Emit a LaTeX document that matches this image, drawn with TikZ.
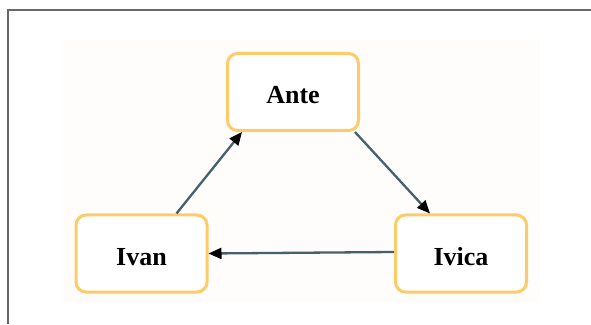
\documentclass[tikz,border=0pt]{standalone}
\usepackage{fontspec}
\setmainfont{Liberation Serif}
\usetikzlibrary{arrows.meta}

\definecolor{boxorange}{HTML}{FDCB6A}
\definecolor{linkgray}{HTML}{46606C}
\definecolor{framegray}{HTML}{686868}
\definecolor{paper}{HTML}{FEFDFB}

\begin{document}
\begin{tikzpicture}[x=1pt,y=1pt,
    person/.style={draw=boxorange, line width=3pt, rounded corners=10pt, fill=white,
        minimum width=131pt, minimum height=77pt, text height=23pt, text depth=0pt,
        font=\fontsize{26}{30}\selectfont\bfseries},
    link/.style={draw=linkgray, line width=2.3pt,
        -{Triangle[length=13pt,width=11pt,color=black]}},
]
    \useasboundingbox (0,0) rectangle (591,324);
    \fill[paper] (63,21) rectangle (540,284);
    \draw[framegray, line width=1.6pt] (8,0) -- (8,314) -- (591,314);

    \node[person] (ante) at (293,232) {Ante};
    \node[person] (ivan) at (141.5,70.5) {Ivan};
    \node[person] (ivica) at (461,70.5) {Ivica};

    \draw[link] ([xshift=35pt]ivan.north) -- ([xshift=-51pt]ante.south);
    \draw[link] ([xshift=62pt]ante.south) -- ([xshift=-31pt]ivica.north);
    \draw[link] ([yshift=1.5pt]ivica.west) -- (ivan.east);
\end{tikzpicture}
\end{document}
